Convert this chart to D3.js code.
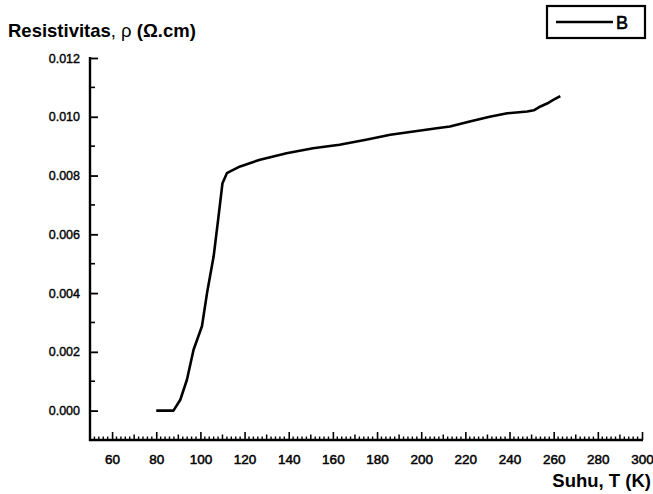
<!DOCTYPE html>
<html>
<head>
<meta charset="utf-8">
<script src="https://cdn.jsdelivr.net/npm/d3@7"></script>
<style>
  body { margin: 0; background: #fff; }
  text { font-family: "Liberation Sans", Arial, sans-serif; fill: #000; }
</style>
</head>
<body>
<div id="chart"></div>
<script>
// values
const temps = [80, 87.8, 90.9, 93.9, 96.9, 100.7, 103, 106, 108.2, 110, 112, 113.5, 118, 127, 139,
    151, 163, 175, 186, 196.5, 207, 213, 222, 231, 239, 248, 251, 254, 257, 260, 263];
const rho = [0, 0, 0.00037, 0.00105, 0.00207, 0.00287, 0.0040, 0.00525, 0.0066, 0.00774, 0.00808,
    0.00814, 0.00831, 0.00854, 0.00876, 0.00893, 0.00905, 0.00922, 0.00939, 0.0095, 0.00961,
    0.00967, 0.00984, 0.0100, 0.01012, 0.01018, 0.01022, 0.01035, 0.01045, 0.01058, 0.0107];
const xTicks = [60, 80, 100, 120, 140, 160, 180, 200, 220, 240, 260, 280, 300];
const yTicks = [0, 0.002, 0.004, 0.006, 0.008, 0.010, 0.012];
const seriesName = "B";

const data = temps.map((t, i) => ({t: t, r: rho[i]}));

const width = 653, height = 494;
const svg = d3.select("#chart").append("svg")
    .attr("width", width)
    .attr("height", height);

const x = d3.scaleLinear().domain([50, 300]).range([90, 642]);
const y = d3.scaleLinear().domain([-0.001, 0.012]).range([440, 58]);

// x axis: minor every 2, medium every 10, major every 20
const xMinor = d3.range(50, 301, 2).filter(v => v % 10 !== 0);
const xMid = d3.range(50, 301, 10).filter(v => v % 20 !== 0);

const xAxisG = svg.append("g").attr("transform", "translate(0,440)");
xAxisG.call(d3.axisBottom(x).tickValues(xTicks).tickSize(-8).tickPadding(14).tickFormat(d3.format("d")));
xAxisG.selectAll(".tick line").attr("stroke-width", 1.6);
xAxisG.selectAll(".tick text")
    .attr("font-size", 13.5).attr("dy", "0.75em")
    .attr("stroke", "#000").attr("stroke-width", 0.5);
xAxisG.select(".domain").remove();
xAxisG.selectAll(".minor").data(xMinor).join("line")
    .attr("x1", d => x(d)).attr("x2", d => x(d))
    .attr("y1", 0).attr("y2", -3.5)
    .attr("stroke", "#000").attr("stroke-width", 1.4);
xAxisG.selectAll(".mid").data(xMid).join("line")
    .attr("x1", d => x(d)).attr("x2", d => x(d))
    .attr("y1", 0).attr("y2", -5.5)
    .attr("stroke", "#000").attr("stroke-width", 1.5);
xAxisG.append("line")
    .attr("x1", x(50) - 1).attr("x2", x(300) + 1)
    .attr("stroke", "#000").attr("stroke-width", 2.4);

// y axis
const yMinor = d3.range(-0.001, 0.0125, 0.002);
const yAxisG = svg.append("g").attr("transform", "translate(90,0)");
yAxisG.call(d3.axisLeft(y).tickValues(yTicks).tickSize(-8).tickPadding(10).tickFormat(d3.format(".3f")));
yAxisG.selectAll(".tick line").attr("stroke-width", 1.8);
yAxisG.selectAll(".tick text")
    .attr("font-size", 12.5)
    .attr("stroke", "#000").attr("stroke-width", 0.4);
yAxisG.select(".domain").remove();
yAxisG.selectAll(".minor").data(yMinor.filter(v => v > -0.0009)).join("line")
    .attr("y1", d => y(d)).attr("y2", d => y(d))
    .attr("x1", 0).attr("x2", 5)
    .attr("stroke", "#000").attr("stroke-width", 1.6);
yAxisG.append("line")
    .attr("y1", y(0.012) - 1).attr("y2", y(-0.001) + 1)
    .attr("stroke", "#000").attr("stroke-width", 2.4);

// the curve
const line = d3.line()
    .x(d => x(d.t))
    .y(d => y(d.r));

svg.append("path")
    .datum(data)
    .attr("d", line)
    .attr("fill", "none")
    .attr("stroke", "#000")
    .attr("stroke-width", 2.6)
    .attr("stroke-linejoin", "round");

// axis titles
const yTitle = svg.append("text")
    .attr("x", 8).attr("y", 37)
    .attr("font-size", 18.5)
    .attr("font-weight", "bold");
yTitle.append("tspan").text("Resistivitas");
yTitle.append("tspan").attr("font-weight", "normal").text(", ρ ");
yTitle.append("tspan").text("(Ω.cm)");

svg.append("text")
    .attr("x", 651).attr("y", 487)
    .attr("text-anchor", "end")
    .attr("font-size", 18.5)
    .attr("font-weight", "bold")
    .text("Suhu, T (K)");

// legend
const legend = svg.append("g");
legend.append("rect")
    .attr("x", 547).attr("y", 6)
    .attr("width", 98).attr("height", 32)
    .attr("fill", "none")
    .attr("stroke", "#000")
    .attr("stroke-width", 2.2);
legend.append("line")
    .attr("x1", 556).attr("x2", 613)
    .attr("y1", 22).attr("y2", 22)
    .attr("stroke", "#000").attr("stroke-width", 2.6);
legend.append("text")
    .attr("x", 616).attr("y", 29)
    .attr("font-size", 18)
    .attr("stroke", "#000").attr("stroke-width", 0.6)
    .text(seriesName);
</script>
</body>
</html>
